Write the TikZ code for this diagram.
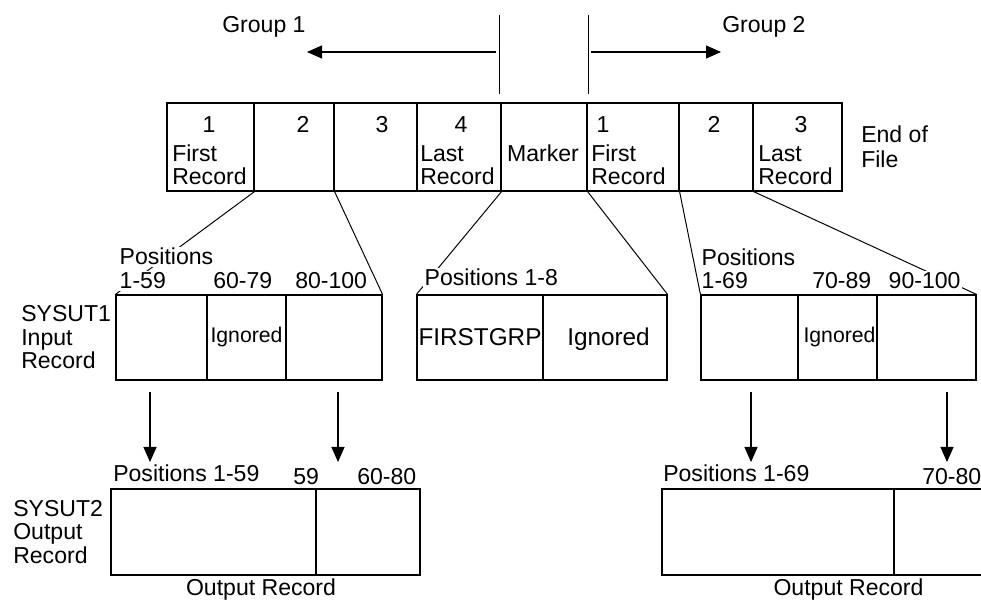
\documentclass[tikz,border=0pt]{standalone}
\usepackage{fontspec}
\setmainfont{Liberation Sans}
\usetikzlibrary{arrows.meta}
\pgfdeclarelayer{edgelayer}
\pgfdeclarelayer{nodelayer}
\pgfsetlayers{edgelayer,nodelayer,main}
\tikzset{font=\fontsize{16.4}{19}\selectfont}
\tikzstyle{none}=[inner sep=0pt]
\tikzstyle{lbl}=[inner sep=0pt, anchor=base west]
\tikzstyle{mid}=[inner sep=0pt, anchor=base]
\tikzstyle{mask}=[lbl, fill=white, inner sep=1pt]
\tikzstyle{big}=[mid, font=\fontsize{17.3}{20}\selectfont]
\tikzstyle{small}=[mid, font=\fontsize{15.1}{18}\selectfont]
\tikzstyle{rec}=[draw, line width=0.8pt, inner sep=0pt]
\tikzstyle{link}=[line width=0.7pt]
\tikzstyle{arr}=[line width=0.8pt, -{Triangle[length=0.375cm, width=0.325cm]}]

\begin{document}
\begin{tikzpicture}
	\useasboundingbox (0, 0) rectangle (24.525, 15.05);
	\begin{pgfonlayer}{nodelayer}
		% groups
		\node [style=lbl] (0) at (5.55, 14.225) {Group 1};
		\node [style=lbl] (1) at (18.05, 14.225) {Group 2};
		\node [style=none] (2) at (12.4, 13.75) {};
		\node [style=none] (3) at (7.675, 13.75) {};
		\node [style=none] (4) at (14.775, 13.75) {};
		\node [style=none] (5) at (18.025, 13.75) {};
		\node [style=none] (6) at (12.475, 14.675) {};
		\node [style=none] (7) at (12.475, 12.7) {};
		\node [style=none] (8) at (14.7, 14.675) {};
		\node [style=none] (9) at (14.7, 12.7) {};
		% file
		\node [style=rec, minimum width=2.175cm, minimum height=2.2cm] (10) at (5.2625, 11.375) {};
		\node [style=rec, minimum width=2cm, minimum height=2.2cm] (11) at (7.35, 11.375) {};
		\node [style=rec, minimum width=2.075cm, minimum height=2.2cm] (12) at (9.3875, 11.375) {};
		\node [style=rec, minimum width=2.1cm, minimum height=2.2cm] (13) at (11.475, 11.375) {};
		\node [style=rec, minimum width=2.15cm, minimum height=2.2cm] (14) at (13.6, 11.375) {};
		\node [style=rec, minimum width=2.3cm, minimum height=2.2cm] (15) at (15.825, 11.375) {};
		\node [style=rec, minimum width=1.85cm, minimum height=2.2cm] (16) at (17.9, 11.375) {};
		\node [style=rec, minimum width=2.225cm, minimum height=2.2cm] (17) at (19.9375, 11.375) {};
		\node [style=mid] (18) at (5.225, 11.725) {1};
		\node [style=lbl] (19) at (4.3, 11) {First};
		\node [style=lbl] (20) at (4.3, 10.425) {Record};
		\node [style=mid] (21) at (7.575, 11.725) {2};
		\node [style=mid] (22) at (9.55, 11.725) {3};
		\node [style=mid] (23) at (11.525, 11.725) {4};
		\node [style=lbl] (24) at (10.5, 11) {Last};
		\node [style=lbl] (25) at (10.5, 10.425) {Record};
		\node [style=mid] (26) at (13.575, 11) {Marker};
		\node [style=mid] (27) at (15.075, 11.725) {1};
		\node [style=lbl] (28) at (14.775, 11) {First};
		\node [style=lbl] (29) at (14.775, 10.425) {Record};
		\node [style=mid] (30) at (17.85, 11.725) {2};
		\node [style=mid] (31) at (20.025, 11.725) {3};
		\node [style=lbl] (32) at (18.95, 11) {Last};
		\node [style=lbl] (33) at (18.95, 10.425) {Record};
		\node [style=lbl] (34) at (21.525, 11.475) {End of};
		\node [style=lbl] (35) at (21.525, 10.85) {File};
		% input records
		\node [style=rec, minimum width=2.275cm, minimum height=2.125cm] (36) at (4.0375, 6.6125) {};
		\node [style=rec, minimum width=1.975cm, minimum height=2.125cm] (37) at (6.1625, 6.6125) {};
		\node [style=rec, minimum width=2.4cm, minimum height=2.125cm] (38) at (8.35, 6.6125) {};
		\node [style=rec, minimum width=3.15cm, minimum height=2.125cm] (39) at (12, 6.6125) {};
		\node [style=rec, minimum width=3.1cm, minimum height=2.125cm] (40) at (15.125, 6.6125) {};
		\node [style=rec, minimum width=2.425cm, minimum height=2.125cm] (41) at (18.7375, 6.6125) {};
		\node [style=rec, minimum width=1.975cm, minimum height=2.125cm] (42) at (20.9375, 6.6125) {};
		\node [style=rec, minimum width=2.475cm, minimum height=2.125cm] (43) at (23.1625, 6.6125) {};
		\node [style=lbl] (44) at (0.525, 7) {SYSUT1};
		\node [style=lbl] (45) at (0.525, 6.4) {Input};
		\node [style=lbl] (46) at (0.525, 5.825) {Record};
		\node [style=mask] (47) at (2.95, 8.425) {Positions};
		\node [style=mask] (48) at (2.95, 7.825) {1-59};
		\node [style=lbl] (49) at (5.325, 7.825) {60-79};
		\node [style=lbl] (50) at (7.375, 7.825) {80-100};
		\node [style=small] (51) at (6.1625, 6.475) {Ignored};
		\node [style=mask] (52) at (10.575, 7.9) {Positions 1-8};
		\node [style=big] (53) at (12, 6.4) {FIRSTGRP};
		\node [style=big] (54) at (15.2125, 6.4) {Ignored};
		\node [style=mask] (55) at (17.5, 8.4) {Positions};
		\node [style=mask] (56) at (17.5, 7.825) {1-69};
		\node [style=lbl] (57) at (20.3, 7.825) {70-89};
		\node [style=mask] (58) at (22.175, 7.825) {90-100};
		\node [style=small] (59) at (20.9875, 6.475) {Ignored};
		% output records
		\node [style=none] (60) at (3.75, 5.25) {};
		\node [style=none] (61) at (3.75, 3.5) {};
		\node [style=none] (62) at (8.45, 5.25) {};
		\node [style=none] (63) at (8.45, 3.5) {};
		\node [style=none] (64) at (18.775, 5.25) {};
		\node [style=none] (65) at (18.775, 3.5) {};
		\node [style=none] (66) at (23.675, 5.25) {};
		\node [style=none] (67) at (23.675, 3.5) {};
		\node [style=rec, minimum width=5.125cm, minimum height=2.15cm] (68) at (5.3375, 1.75) {};
		\node [style=rec, minimum width=2.6cm, minimum height=2.15cm] (69) at (9.2, 1.75) {};
		\node [style=rec, minimum width=5.8cm, minimum height=2.15cm] (70) at (19.45, 1.75) {};
		\node [style=rec, minimum width=2.525cm, minimum height=2.15cm] (71) at (23.6125, 1.75) {};
		\node [style=lbl] (72) at (2.825, 3) {Positions 1-59};
		\node [style=lbl] (73) at (7.325, 2.925) {59};
		\node [style=lbl] (74) at (8.925, 2.925) {60-80};
		\node [style=lbl] (75) at (0.325, 2.125) {SYSUT2};
		\node [style=lbl] (76) at (0.325, 1.55) {Output};
		\node [style=lbl] (77) at (0.325, 0.95) {Record};
		\node [style=mid] (78) at (6.525, 0.15) {Output Record};
		\node [style=lbl] (79) at (16.575, 3) {Positions 1-69};
		\node [style=lbl] (80) at (23.05, 2.925) {70-80};
		\node [style=mid] (81) at (21.2125, 0.15) {Output Record};
	\end{pgfonlayer}
	\begin{pgfonlayer}{edgelayer}
		\draw [style=arr] (2.center) to (3.center);
		\draw [style=arr] (4.center) to (5.center);
		\draw [style=link] (6.center) to (7.center);
		\draw [style=link] (8.center) to (9.center);
		\draw [style=link] (10.south east) to (36.north west);
		\draw [style=link] (11.south east) to (38.north east);
		\draw [style=link] (13.south east) to (39.north west);
		\draw [style=link] (14.south east) to (40.north east);
		\draw [style=link] (15.south east) to (41.north west);
		\draw [style=link] (16.south east) to (43.north east);
		\draw [style=arr] (60.center) to (61.center);
		\draw [style=arr] (62.center) to (63.center);
		\draw [style=arr] (64.center) to (65.center);
		\draw [style=arr] (66.center) to (67.center);
	\end{pgfonlayer}
\end{tikzpicture}
\end{document}
